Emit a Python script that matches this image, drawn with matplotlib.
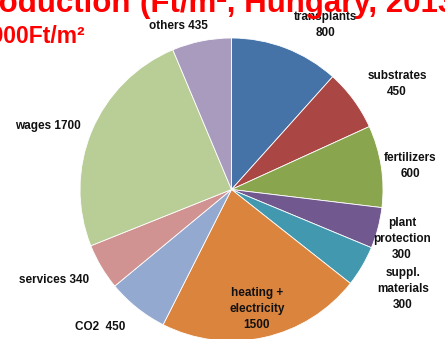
"""Cost structure pie: greenhouse production costs per m2 (Ft/m2)."""

import matplotlib
matplotlib.use("Agg")
import matplotlib.pyplot as plt

W, H = 445, 339

categories = ["transplants", "substrates", "fertilizers", "plant\nprotection",
              "suppl.\nmaterials", "heating +\nelectricity", "CO2 ",
              "services", "wages", "others"]
values = [800, 450, 600, 300, 300, 1500, 450, 340, 1700, 435]
colors = ["#4572A7", "#AA4643", "#89A54E", "#71588F", "#4198AF",
          "#DB843D", "#93A9CF", "#D19392", "#B9CD96", "#A99BBD"]
# label text layout: "name value" on one line or value on its own line
stacked = [True, True, True, True, True, True, False, False, False, False]

# label centres, pixels from the top-left corner
label_xy = [(326, 25), (397, 84), (410, 166), (402, 239), (403, 289),
            (257, 309), (100, 327), (54, 280), (48, 126), (178, 26)]

plt.rcParams["font.family"] = ["Liberation Sans", "DejaVu Sans"]

fig = plt.figure(figsize=(W / 100, H / 100), dpi=100)
ax = fig.add_axes([0, 0, 1, 1])

cx, cy, r = 231.5, 189.5, 151.5
ax.pie(values, colors=colors, startangle=90, counterclock=False,
       center=(cx, H - cy), radius=r,
       wedgeprops=dict(edgecolor="white", linewidth=0.6))

ax.set_xlim(0, W)
ax.set_ylim(0, H)
ax.set_aspect("auto")
ax.axis("off")

for name, val, st, (lx, ly) in zip(categories, values, stacked, label_xy):
    txt = f"{name}\n{val}" if st else f"{name} {val}"
    ax.text(lx, H - ly, txt, ha="center", va="center", fontsize=8.5,
            fontweight="bold", color="#111111", linespacing=1.45)

# title, cut by the top and left edges
ax.text(131, H - 12, "Costs of production", ha="right", va="baseline",
        fontsize=22.5, fontweight="bold", color="#FF0000", clip_on=False)
ax.text(140, H - 12, "(Ft/m², Hungary, 2013)", ha="left", va="baseline",
        fontsize=22.5, fontweight="bold", color="#FF0000", clip_on=False)
ax.text(85, H - 43, "Total: 6900Ft/m²", ha="right", va="baseline",
        fontsize=16.5, fontweight="bold", color="#FF0000", clip_on=False)

fig.savefig("out.png", dpi=100)
